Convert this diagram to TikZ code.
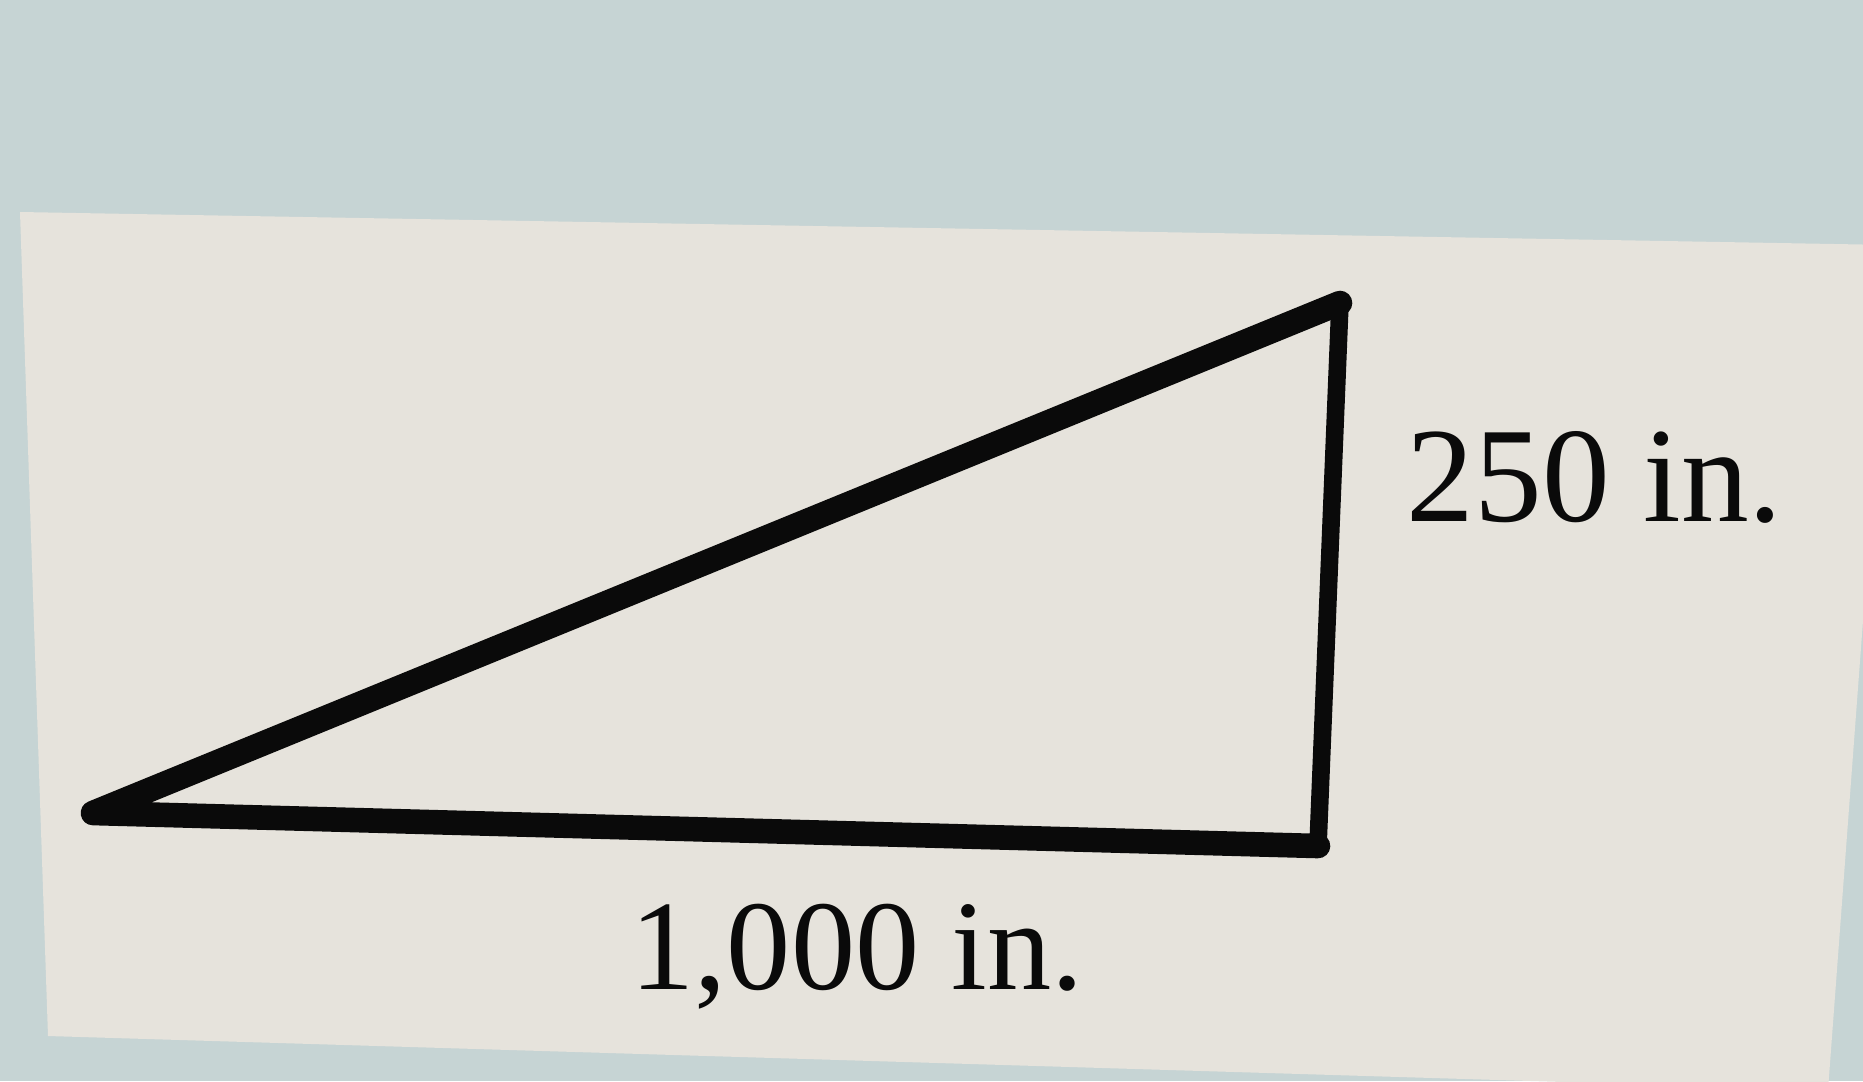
\documentclass[tikz,border=0pt]{standalone}
\usepackage{fontspec}
\setmainfont{Liberation Serif}
\definecolor{screenbg}{RGB}{198,212,212}
\definecolor{panel}{RGB}{230,227,220}
\definecolor{ink}{RGB}{10,10,10}
\tikzset{
  side/.style={draw=ink, line width=7pt, line cap=round, line join=round},
  vside/.style={draw=ink, line width=5pt, line cap=round},
  lbl/.style={anchor=base west, inner sep=0pt, text=ink}
}
\begin{document}
\begin{tikzpicture}[x=0.01cm, y=-0.01cm]
  \useasboundingbox (0,0) rectangle (1863,1081);
  \fill[screenbg] (0,0) rectangle (1863,1081);
  \fill[panel] (20,212) -- (1891,245) -- (1828,1090) -- (48,1036) -- cycle;
  \coordinate (A) at (93,813);
  \coordinate (B) at (1340,303);
  \coordinate (C) at (1318,846);
  \draw[side] (C) -- (A) -- (B);
  \draw[vside] (B) -- (C);
  \node[lbl, font=\fontsize{38.5}{42}\selectfont] (h) at (1406,521) {250 in.};
  \node[lbl, font=\fontsize{36.5}{40}\selectfont] (w) at (630,989) {1,000 in.};
\end{tikzpicture}
\end{document}
